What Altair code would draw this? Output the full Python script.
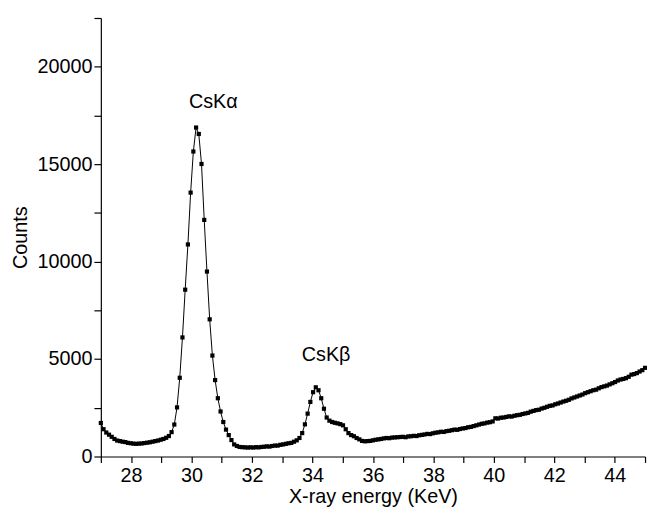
import altair as alt
import pandas as pd

# Channel energies (keV)
ENERGY_KEV = [
    27.00, 27.09, 27.18, 27.27, 27.36, 27.45, 27.54, 27.63, 27.72, 27.81,
    27.90, 27.99, 28.08, 28.17, 28.26, 28.35, 28.44, 28.53, 28.62, 28.71,
    28.80, 28.89, 28.98, 29.07, 29.16, 29.25, 29.34, 29.43, 29.52, 29.61,
    29.70, 29.79, 29.88, 29.97, 30.06, 30.15, 30.24, 30.33, 30.42, 30.51,
    30.60, 30.69, 30.78, 30.87, 30.96, 31.05, 31.14, 31.23, 31.32, 31.41,
    31.50, 31.59, 31.68, 31.77, 31.86, 31.95, 32.04, 32.13, 32.22, 32.31,
    32.40, 32.49, 32.58, 32.67, 32.76, 32.85, 32.94, 33.03, 33.12, 33.21,
    33.30, 33.39, 33.48, 33.57, 33.66, 33.75, 33.84, 33.93, 34.02, 34.11,
    34.20, 34.29, 34.38, 34.47, 34.56, 34.65, 34.74, 34.83, 34.92, 35.01,
    35.10, 35.19, 35.28, 35.37, 35.46, 35.55, 35.64, 35.73, 35.82, 35.91,
    36.00, 36.09, 36.18, 36.27, 36.36, 36.45, 36.54, 36.63, 36.72, 36.81,
    36.90, 36.99, 37.08, 37.17, 37.26, 37.35, 37.44, 37.53, 37.62, 37.71,
    37.80, 37.89, 37.98, 38.07, 38.16, 38.25, 38.34, 38.43, 38.52, 38.61,
    38.70, 38.79, 38.88, 38.97, 39.06, 39.15, 39.24, 39.33, 39.42, 39.51,
    39.60, 39.69, 39.78, 39.87, 39.96, 40.05, 40.14, 40.23, 40.32, 40.41,
    40.50, 40.59, 40.68, 40.77, 40.86, 40.95, 41.04, 41.13, 41.22, 41.31,
    41.40, 41.49, 41.58, 41.67, 41.76, 41.85, 41.94, 42.03, 42.12, 42.21,
    42.30, 42.39, 42.48, 42.57, 42.66, 42.75, 42.84, 42.93, 43.02, 43.11,
    43.20, 43.29, 43.38, 43.47, 43.56, 43.65, 43.74, 43.83, 43.92, 44.01,
    44.10, 44.19, 44.28, 44.37, 44.46, 44.55, 44.64, 44.73, 44.82, 44.91,
    45.00,
]

COUNTS = [
    1720, 1400, 1230, 1120, 1010, 900, 820, 790, 760, 740,
    700, 680, 660, 650, 660, 670, 690, 710, 730, 760,
    790, 820, 860, 900, 960, 1050, 1250, 1640, 2520, 4040,
    6110, 8560, 10880, 13540, 15650, 16880, 16550, 15010, 12140, 9490,
    7040, 5180, 3920, 2990, 2310, 1770, 1380, 1100, 845, 620,
    540, 490, 480, 470, 460, 470, 460, 480, 470, 490,
    500, 520, 510, 540, 560, 560, 600, 620, 650, 680,
    700, 760, 830, 950, 1200, 1650, 2200, 2800, 3300, 3550,
    3400, 2990, 2450, 2000, 1840, 1770, 1730, 1700, 1660, 1600,
    1400, 1200, 1100, 1040, 950, 880, 800, 780, 790, 800,
    830, 860, 880, 900, 930, 950, 940, 970, 980, 990,
    1000, 1010, 990, 1030, 1040, 1060, 1050, 1090, 1110, 1130,
    1160, 1150, 1190, 1220, 1240, 1270, 1260, 1300, 1320, 1350,
    1380, 1370, 1410, 1440, 1460, 1500, 1520, 1560, 1600, 1640,
    1680, 1700, 1740, 1760, 1800, 1960, 1950, 1990, 2000, 2030,
    2060, 2050, 2090, 2120, 2140, 2180, 2210, 2240, 2300, 2340,
    2380, 2400, 2460, 2500, 2550, 2600, 2620, 2680, 2720, 2770,
    2820, 2860, 2910, 2980, 3030, 3080, 3130, 3180, 3250, 3300,
    3350, 3400, 3430, 3500, 3560, 3600, 3640, 3700, 3760, 3820,
    3900, 3950, 3980, 4020, 4090, 4200, 4230, 4280, 4360, 4430,
    4550,
]

PEAK_LABELS = ["CsKα", "CsKβ"]
PEAK_LABEL_X = [30.72, 34.45]
PEAK_LABEL_Y = [18190, 5220]

X_TICKS = list(range(27, 46))
Y_TICKS = list(range(0, 22501, 2500))

FONT = "Liberation Sans"

df = pd.DataFrame({"energy": ENERGY_KEV, "counts": COUNTS})
labels = pd.DataFrame({"label": PEAK_LABELS, "x": PEAK_LABEL_X, "y": PEAK_LABEL_Y})

x_scale = alt.Scale(domain=[27, 45], nice=False, zero=False)
y_scale = alt.Scale(domain=[0, 22500], nice=False)

x_axis = alt.Axis(
    title="X-ray energy (KeV)",
    values=X_TICKS,
    format="d",
    labelExpr="(round(datum.value) % 2 == 0) ? format(datum.value, 'd') : ''",
    labelFlush=False,
    labelOverlap=False,
    grid=False,
    tickSize=6,
    labelPadding=3,
    titlePadding=2,
)
y_axis = alt.Axis(
    title="Counts",
    values=Y_TICKS,
    format="d",
    labelExpr="(round(datum.value) % 5000 == 0) ? format(datum.value, 'd') : ''",
    labelFlush=False,
    labelOverlap=False,
    grid=False,
    tickSize=7,
    labelPadding=2,
    titlePadding=7,
)

base = alt.Chart(df).encode(
    x=alt.X("energy:Q", scale=x_scale, axis=x_axis),
    y=alt.Y("counts:Q", scale=y_scale, axis=y_axis),
)

line = base.mark_line(color="black", strokeWidth=1)
points = base.mark_square(color="black", size=18, opacity=1)

text = alt.Chart(labels).mark_text(
    font=FONT, fontSize=20, align="center", baseline="middle", color="black"
).encode(
    x=alt.X("x:Q", scale=x_scale, axis=x_axis),
    y=alt.Y("y:Q", scale=y_scale, axis=y_axis),
    text="label:N",
)

chart = (
    alt.layer(line, points, text)
    .properties(
        width=551,
        height=444,
        autosize=alt.AutoSizeParams(type="none"),
        padding={"left": 94, "top": 7, "right": 2, "bottom": 48},
    )
    .configure_view(stroke=None)
    .configure_axis(
        domainColor="black",
        domainWidth=1.2,
        tickColor="black",
        tickWidth=1.2,
        labelFont=FONT,
        labelFontSize=20,
        labelColor="black",
        titleFont=FONT,
        titleFontSize=20,
        titleFontWeight="normal",
        titleColor="black",
    )
)

chart.save("out.html", embed_options={"renderer": "svg", "actions": False})
